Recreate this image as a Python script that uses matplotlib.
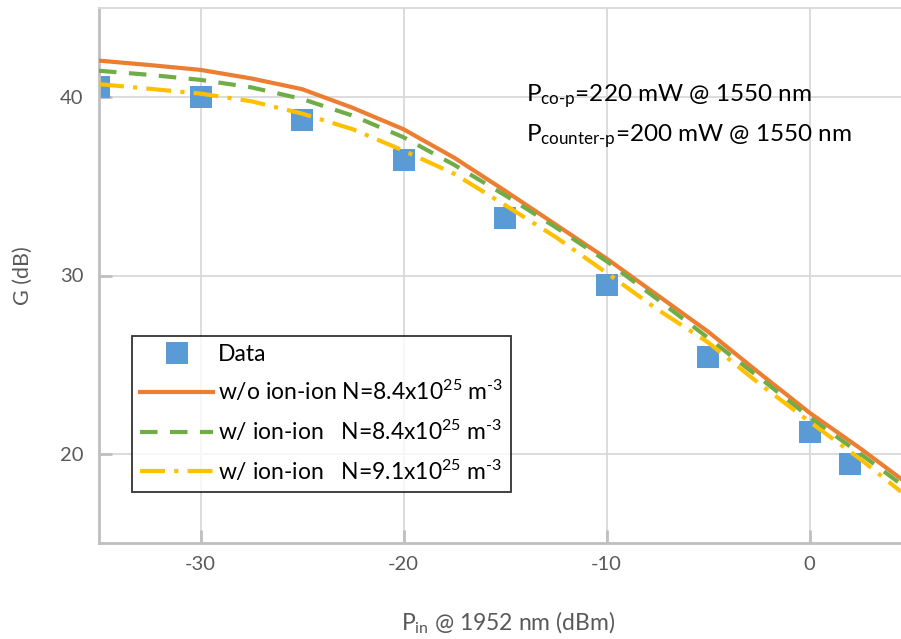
import matplotlib
matplotlib.use('Agg')
import matplotlib.pyplot as plt

plt.rcParams['font.family'] = ['Lato', 'DejaVu Sans']
plt.rcParams['mathtext.fontset'] = 'custom'
plt.rcParams['mathtext.rm'] = 'Lato'
plt.rcParams['mathtext.default'] = 'regular'
plt.rcParams['axes.unicode_minus'] = False

# measured data
p_data = [-35, -30, -25, -20, -15, -10, -5, 0, 2]
g_data = [40.55, 40.0, 38.7, 36.45, 33.2, 29.45, 25.45, 21.25, 19.45]

# simulated curves
p_sim = [-35, -32.5, -30, -27.5, -25, -22.5, -20, -17.5, -15, -12.5,
         -10, -7.5, -5, -2.5, 0, 2.5, 4.5]
g_no_ionion = [42.05, 41.8, 41.53, 41.05, 40.45, 39.4, 38.2, 36.6, 34.75, 32.85,
               30.95, 28.9, 26.85, 24.55, 22.3, 20.3, 18.6]
g_ionion_84 = [41.48, 41.25, 40.97, 40.55, 39.9, 38.96, 37.75, 36.2, 34.5, 32.7,
               30.8, 28.67, 26.5, 24.3, 22.05, 20.0, 18.3]
g_ionion_91 = [40.73, 40.47, 40.2, 39.77, 39.08, 38.2, 37.0, 35.7, 33.95, 32.15,
               30.15, 28.1, 26.25, 23.95, 21.8, 19.7, 17.88]

x_ticks = [-30, -20, -10, 0]
y_ticks = [20, 30, 40]

fig = plt.figure(figsize=(9.01, 6.39), dpi=100)
ax = fig.add_axes([99 / 901, 1 - 543 / 639, 802 / 901, 535 / 639])

ax.plot(p_data, g_data, 's', color='#5B9BD5', markersize=16, markeredgewidth=0,
        label='Data', zorder=2)
ax.plot(p_sim, g_no_ionion, '-', color='#ED7D31', lw=3,
        label='w/o ion-ion N=8.4x10$^{25}$ m$^{\u20103}$', zorder=3)
ax.plot(p_sim, g_ionion_84, color='#70AD47', lw=3, dashes=(4.2, 3),
        label='w/ ion-ion   N=8.4x10$^{25}$ m$^{\u20103}$', zorder=3)
ax.plot(p_sim, g_ionion_91, color='#FFC000', lw=3, dashes=(6, 2.2, 1, 2.2),
        label='w/ ion-ion   N=9.1x10$^{25}$ m$^{\u20103}$', zorder=3)

ax.set_xlim(-35, 4.5)
ax.set_ylim(15, 45)
ax.set_xticks(x_ticks)
ax.set_yticks(y_ticks)
ax.grid(True, color='#d9d9d9', lw=1.3)
ax.set_axisbelow(True)

for s in ['left', 'bottom']:
    ax.spines[s].set_color('#bfbfbf')
    ax.spines[s].set_linewidth(2)
ax.spines['top'].set_color('#d9d9d9')
ax.spines['top'].set_linewidth(1.3)
ax.spines['right'].set_visible(False)

ax.tick_params(direction='in', length=9.5, width=2, color='#bfbfbf',
               labelsize=14.5, labelcolor='#595959')
ax.tick_params(axis='y', pad=11)
ax.tick_params(axis='x', pad=9)

ax.set_xlabel('P$_{in}$ @ 1952 nm (dBm)', fontsize=16.5, color='#595959')
ax.xaxis.set_label_coords(0.51, -0.125)
ax.set_ylabel('G (dB)', fontsize=15.5, color='#595959')
ax.yaxis.set_label_coords(-0.083, 0.5)

ax.text(0.533, 0.836, 'P$_{co\u2010p}$=220 mW @ 1550 nm', transform=ax.transAxes,
        fontsize=17.5, va='center', ha='left')
ax.text(0.533, 0.761, 'P$_{counter\u2010p}$=200 mW @ 1550 nm', transform=ax.transAxes,
        fontsize=17.5, va='center', ha='left')

leg = ax.legend(loc='upper left', bbox_to_anchor=(0.041, 0.387), borderaxespad=0,
                fontsize=16.5, frameon=True, fancybox=False, handlelength=3.2,
                handletextpad=0.2, borderpad=0.35, labelspacing=0.62)
leg.get_frame().set_edgecolor('black')
leg.get_frame().set_linewidth(1.3)

fig.savefig('out.png', dpi=100)
